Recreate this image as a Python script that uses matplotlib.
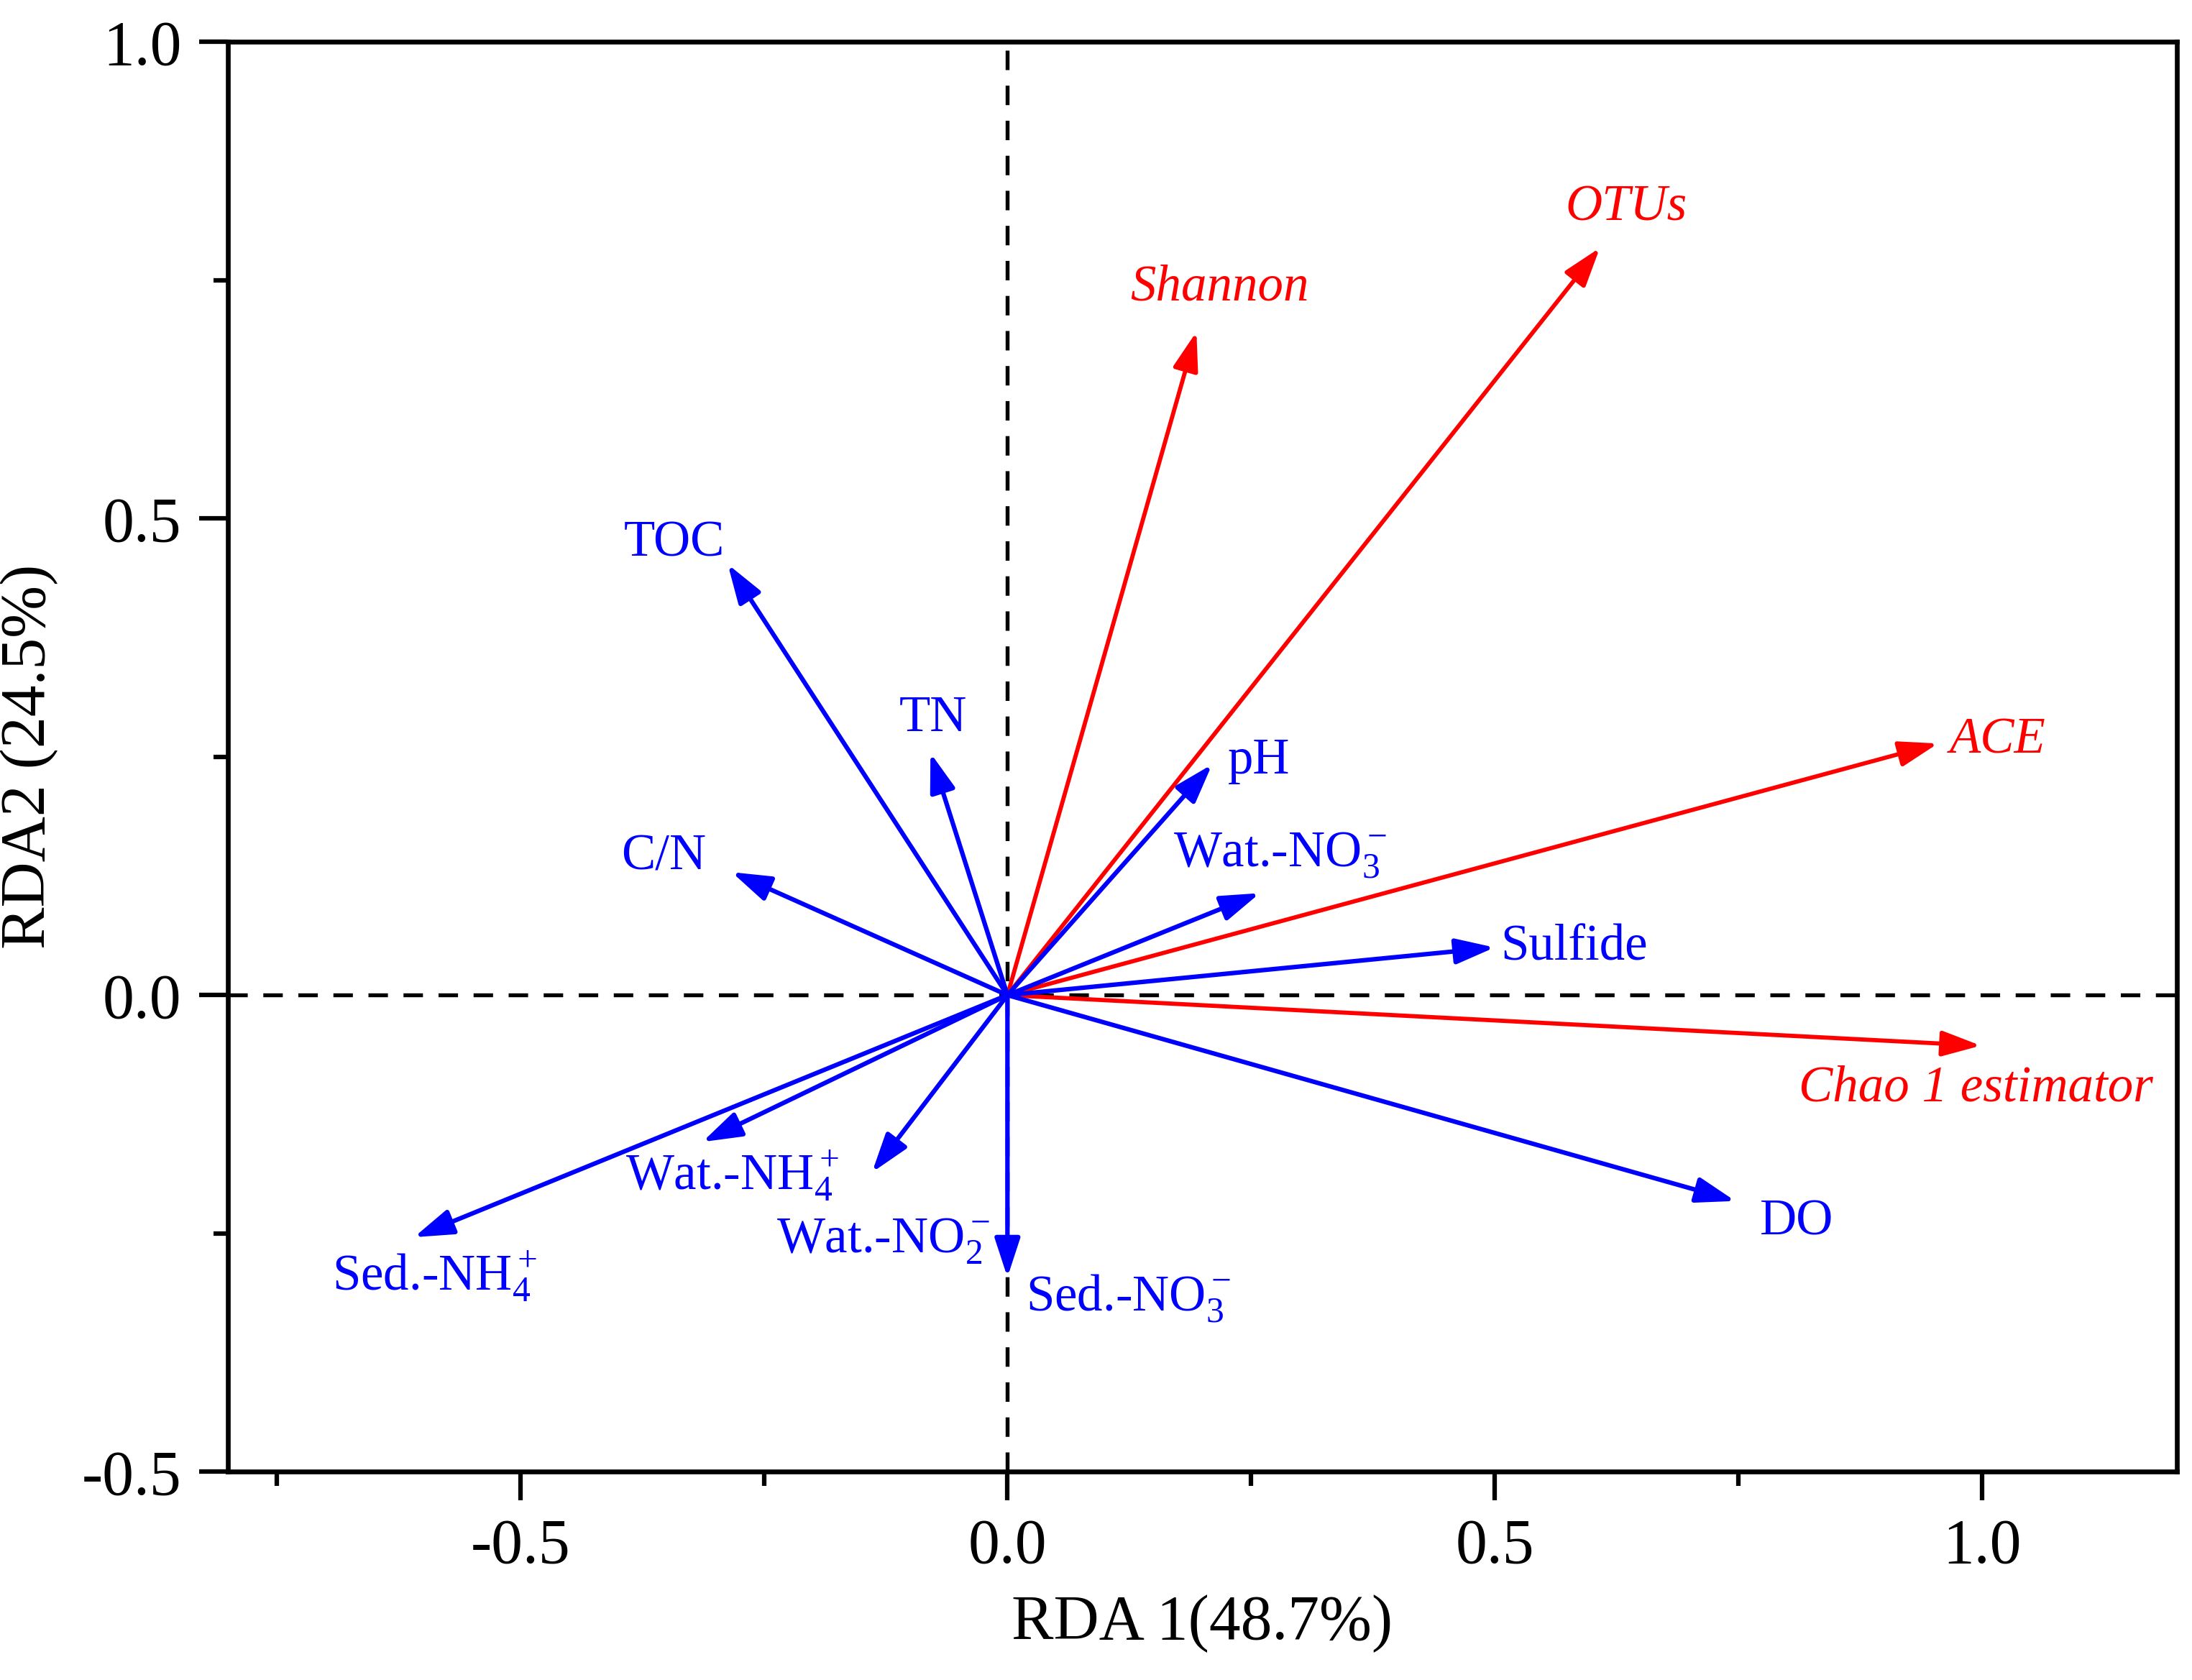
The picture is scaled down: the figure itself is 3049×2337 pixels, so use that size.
import matplotlib.pyplot as plt
from matplotlib.ticker import MultipleLocator
import numpy as np

plt.rcParams['font.family'] = ['Liberation Serif', 'DejaVu Serif']
plt.rcParams['mathtext.fontset'] = 'custom'
plt.rcParams['mathtext.rm'] = 'Liberation Serif'
plt.rcParams['mathtext.it'] = 'Liberation Serif:italic'
plt.rcParams['axes.unicode_minus'] = False

# diversity indices (red arrows)
div_names = ['OTUs', 'Shannon', 'ACE', 'Chao 1 estimator']
div_x = [0.608, 0.194, 0.955, 0.999]
div_y = [0.784, 0.696, 0.264, -0.053]

# environmental factors (blue arrows)
env_names = ['TOC', 'TN', 'pH', 'C/N', 'Wat.-NO$_3^-$', 'Sulfide', 'DO',
             'Sed.-NO$_3^-$', 'Wat.-NO$_2^-$', 'Wat.-NH$_4^+$', 'Sed.-NH$_4^+$']
env_x = [-0.287, -0.079, 0.210, -0.283, 0.259, 0.500, 0.747,
         0.0, -0.139, -0.313, -0.609]
env_y = [0.452, 0.254, 0.242, 0.129, 0.107, 0.050, -0.216,
         -0.296, -0.186, -0.154, -0.254]

# where each label sits (x, y, horizontal alignment)
div_lab = [(0.635, 0.826, 'center'), (0.218, 0.742, 'center'),
           (0.967, 0.267, 'left'), (0.812, -0.098, 'left')]
env_lab = [(-0.342, 0.474, 'center'), (-0.076, 0.290, 'center'),
           (0.226, 0.246, 'left'), (-0.353, 0.145, 'center'),
           (0.170, 0.147, 'left'), (0.506, 0.050, 'left'),
           (0.810, -0.238, 'center'), (0.019, -0.318, 'left'),
           (-0.237, -0.258, 'left'), (-0.392, -0.190, 'left'),
           (-0.693, -0.296, 'left')]

fig = plt.figure(figsize=(3049 / 300, 2337 / 300), dpi=300)
ax = fig.add_axes([0.104, 0.124, 0.889, 0.851])

ax.axhline(0, color='black', ls=(0, (5, 4)), lw=1.3, zorder=1)
ax.axvline(0, color='black', ls=(0, (5, 4)), lw=1.3, zorder=1)

arrow_style = '-|>,head_length=0.55,head_width=0.18'

for x, y in zip(div_x, div_y):
    ax.annotate('', xy=(x, y), xytext=(0, 0),
                arrowprops=dict(arrowstyle=arrow_style, color='#ff0000',
                                lw=1.4, mutation_scale=20, shrinkA=0, shrinkB=0),
                zorder=2)
for name, (lx, ly, ha) in zip(div_names, div_lab):
    ax.text(lx, ly, name, color='#ff0000', style='italic', fontsize=17,
            ha=ha, va='center')

for x, y in zip(env_x, env_y):
    ax.annotate('', xy=(x, y), xytext=(0, 0),
                arrowprops=dict(arrowstyle=arrow_style, color='#0000ff',
                                lw=1.5, mutation_scale=20, shrinkA=0, shrinkB=0),
                zorder=3)
for name, (lx, ly, ha) in zip(env_names, env_lab):
    ax.text(lx, ly, name, color='#0000ff', fontsize=17, ha=ha, va='center')

ax.set_xlim(-0.8, 1.2)
ax.set_ylim(-0.5, 1.0)
ax.xaxis.set_major_locator(MultipleLocator(0.5))
ax.xaxis.set_minor_locator(MultipleLocator(0.25))
ax.yaxis.set_major_locator(MultipleLocator(0.5))
ax.yaxis.set_minor_locator(MultipleLocator(0.25))
ax.xaxis.set_major_formatter(lambda v, p: f'{v:.1f}')
ax.yaxis.set_major_formatter(lambda v, p: f'{v:.1f}')

ax.tick_params(which='major', direction='out', length=9.5, width=1.5,
               labelsize=21, pad=6)
ax.tick_params(which='minor', direction='out', length=4.8, width=1.5)
for s in ax.spines.values():
    s.set_linewidth(1.6)

ax.set_xlabel('RDA 1(48.7%)', fontsize=21, labelpad=6)
ax.set_ylabel('RDA2 (24.5%)', fontsize=21, labelpad=8)

fig.savefig('out.png', dpi=300)
